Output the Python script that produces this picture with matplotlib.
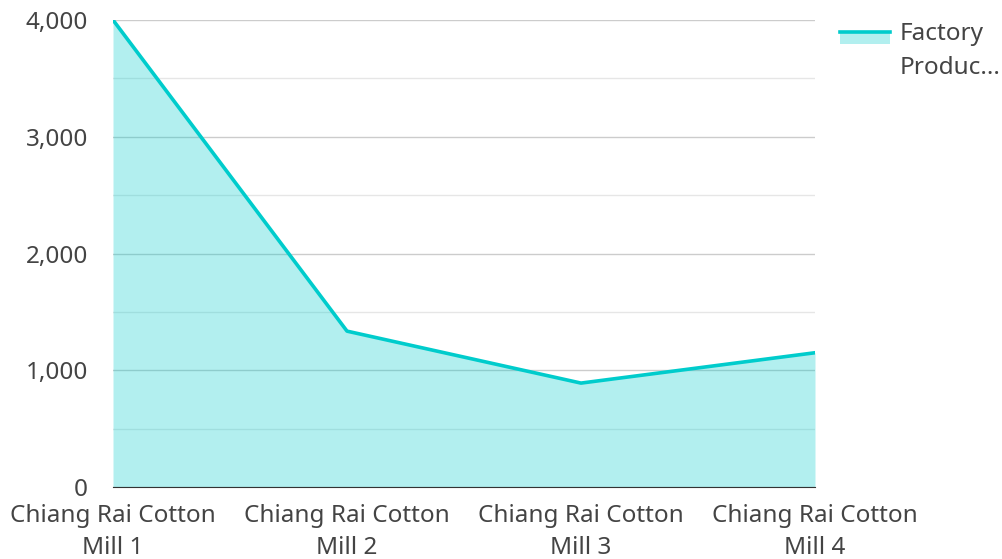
import numpy as np
import matplotlib.pyplot as plt
from matplotlib.lines import Line2D
from matplotlib.patches import Rectangle

plt.rcParams['font.family'] = ['Noto Sans', 'DejaVu Sans']

mills = ['Chiang Rai Cotton\nMill 1', 'Chiang Rai Cotton\nMill 2',
         'Chiang Rai Cotton\nMill 3', 'Chiang Rai Cotton\nMill 4']
production = [4000, 1335, 890, 1150]
series_name = 'Factory\nProduc...'

line_color = '#00CCCC'
text_color = '#444444'
fsize = 17.5

fig = plt.figure(figsize=(10.02, 5.59), dpi=100)
ax = fig.add_axes([113 / 1002, 72 / 559, 702 / 1002, 467 / 559])

x = np.arange(len(mills))
ax.fill_between(x, production, 0, color=line_color, alpha=0.3, linewidth=0, zorder=2)
ax.plot(x, production, color=line_color, linewidth=2.6, zorder=3)

ax.set_xlim(0, len(mills) - 1)
ax.set_ylim(0, 4000)
ax.set_yticks(np.arange(0, 4001, 1000))
ax.set_yticklabels([f'{v:,}' for v in range(0, 4001, 1000)])
ax.set_yticks(np.arange(500, 4000, 1000), minor=True)
ax.set_axisbelow(True)
ax.grid(axis='y', which='major', color='#cccccc', linewidth=1)
ax.grid(axis='y', which='minor', color='#e6e6e6', linewidth=1)
ax.set_xticks(x)
ax.set_xticklabels(mills, linespacing=1.45)

for s in ['top', 'right', 'left']:
    ax.spines[s].set_visible(False)
ax.spines['bottom'].set_color('#333333')
ax.spines['bottom'].set_zorder(4)
ax.tick_params(axis='both', which='both', length=0, labelsize=fsize, colors=text_color)
ax.tick_params(axis='y', pad=18)
ax.tick_params(axis='x', pad=12)

# legend
fig.patches.append(Rectangle((840 / 1002, 1 - 44 / 559), 50 / 1002, 13 / 559,
                             transform=fig.transFigure, color=line_color,
                             alpha=0.3, linewidth=0))
fig.lines.append(Line2D([840 / 1002, 890 / 1002], [1 - 32 / 559, 1 - 32 / 559],
                        transform=fig.transFigure, color=line_color, linewidth=2.6))
fig.text(900 / 1002, 1 - 22 / 559, series_name, ha='left', va='top',
         fontsize=fsize, color=text_color, linespacing=1.55)

fig.savefig('out.png', dpi=100)
plt.close()
